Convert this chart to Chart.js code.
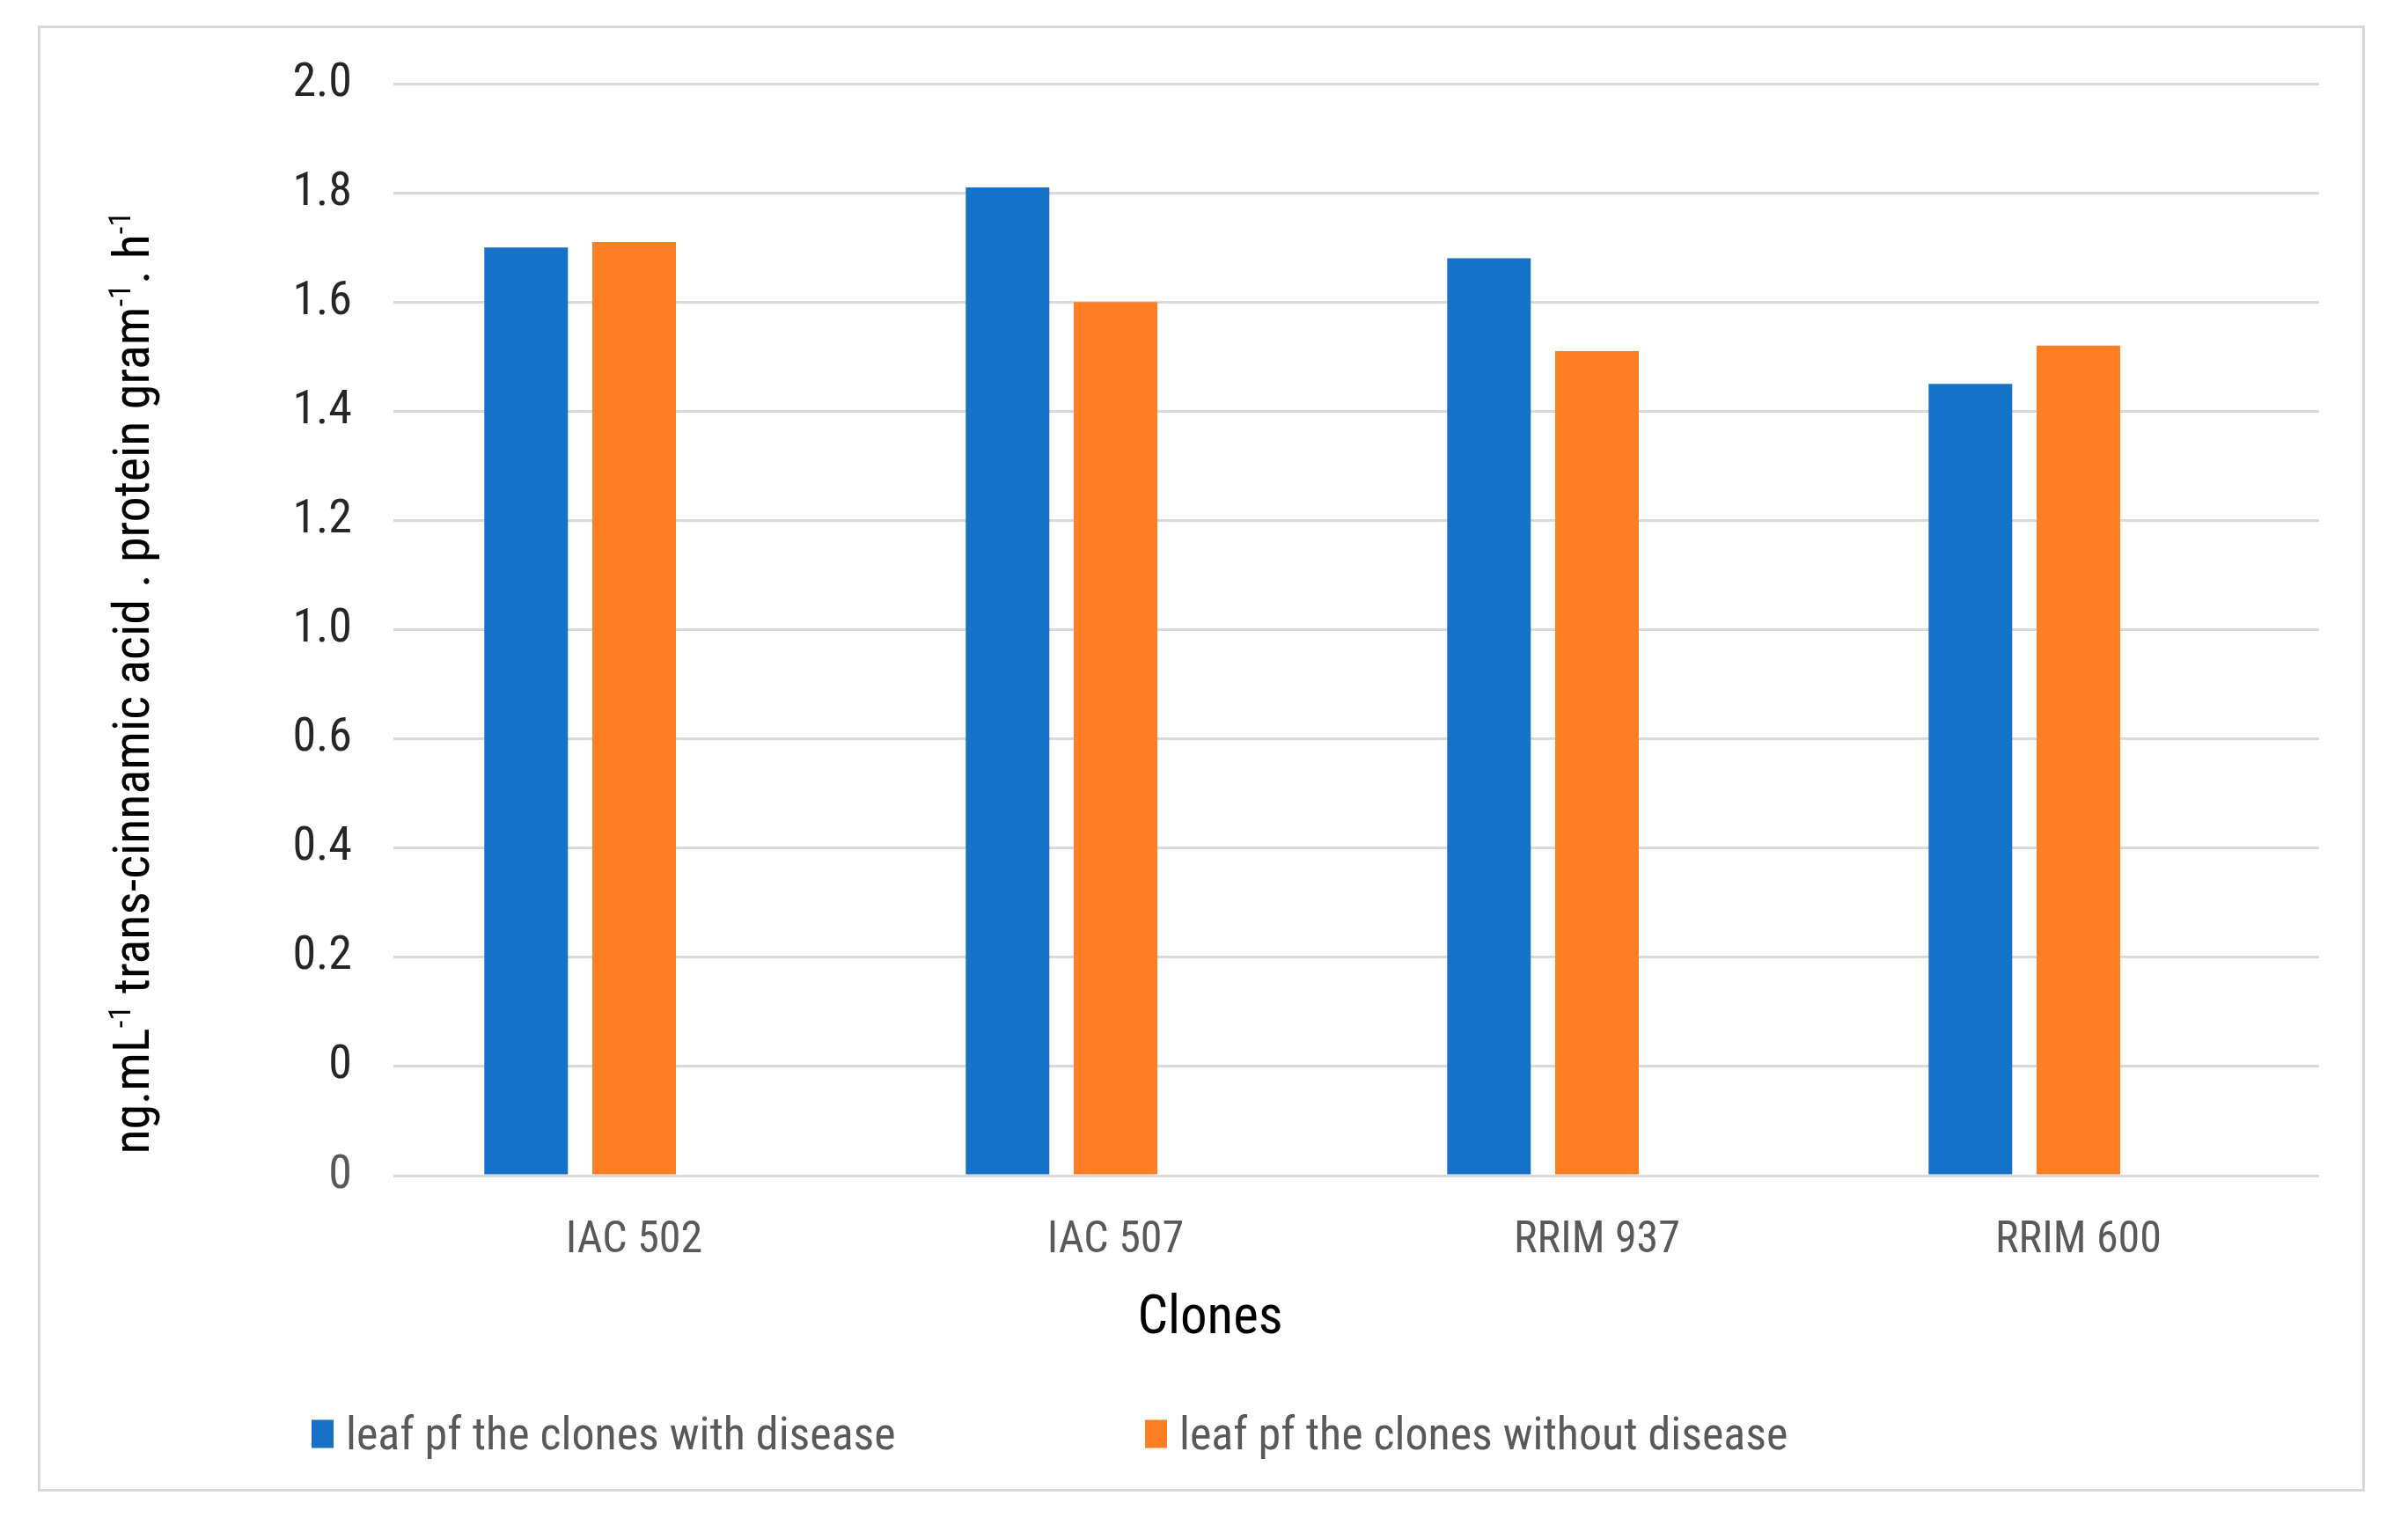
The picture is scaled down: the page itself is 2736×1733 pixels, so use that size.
<!DOCTYPE html>
<html>
<head>
<meta charset="utf-8">
<script src="https://cdn.jsdelivr.net/npm/chart.js@4.4.1/dist/chart.umd.min.js"></script>
<style>
  body { margin: 0; background: #fff; }
  #wrap { position: relative; width: 2736px; height: 1733px; font-family: 'Liberation Sans Narrow', 'Arial Narrow', 'Roboto Condensed', sans-serif; }
  #frame { position: absolute; left: 43px; top: 29px; width: 2644px; height: 1666px; border: 3px solid #d9d9d9; box-sizing: border-box; }
  #chart { position: absolute; left: 0; top: 0; }
  #ytitle { position: absolute; left: 149px; top: 776px; width: 1400px; text-align: center; white-space: nowrap;
            transform: translate(-50%, -50%) rotate(-90deg); font-size: 58px; color: #000; line-height: 1; }
  #ytitle sup { font-size: 0.6em; vertical-align: 0.6em; line-height: 0; }
  #xtitle { position: absolute; left: 1375px; top: 1494px; transform: translate(-50%, -50%); font-size: 61px; color: #000; white-space: nowrap; }
  .item { position: absolute; top: 1629px; transform: translateY(-50%); display: flex; align-items: center; white-space: nowrap;
          font-size: 52px; color: #595959; }
  .item i { display: inline-block; width: 25px; height: 32px; margin-right: 14px; }
</style>
</head>
<body>
<div id="wrap">
  <div id="frame"></div>
  <canvas id="chart" width="2736" height="1733"></canvas>
  <div id="ytitle">ng.mL<sup>-1</sup> trans-cinnamic acid . protein gram<sup>-1</sup>. h<sup>-1</sup></div>
  <div id="xtitle">Clones</div>
  <div id="legend"></div>
</div>
<script>
const clones = ['IAC 502', 'IAC 507', 'RRIM 937', 'RRIM 600'];
const withDisease = [1.70, 1.81, 1.68, 1.45];
const withoutDisease = [1.71, 1.60, 1.51, 1.52];
// the original chart had an empty third series, which pushes the bars left
const emptySeries = [null, null, null, null];
// y tick labels as printed, bottom to top
const yTickLabels = ['0', '0', '0.2', '0.4', '0.6', '1.0', '1.2', '1.4', '1.6', '1.8', '2.0'];

const seriesNames = ['leaf pf the clones with disease', 'leaf pf the clones without disease'];
const blue = '#1672c9';
const orange = '#fe7e26';
const fontFamily = "'Liberation Sans Narrow', 'Arial Narrow', 'Roboto Condensed', sans-serif";

const ctx = document.getElementById('chart').getContext('2d');

const data = {
    labels: clones,
    datasets: [{
        label: seriesNames[0],
        data: withDisease,
        backgroundColor: blue
    }, {
        label: seriesNames[1],
        data: withoutDisease,
        backgroundColor: orange
    }, {
        label: '',
        data: emptySeries,
        backgroundColor: 'rgba(0,0,0,0)'
    }]
};

const config = {
    type: 'bar',
    data: data,
    options: {
        responsive: false,
        devicePixelRatio: 1,
        animation: false,
        categoryPercentage: 0.673,
        barPercentage: 0.774,
        layout: {
            padding: { left: 0, top: 95, right: 101, bottom: 0 }
        },
        scales: {
            y: {
                min: 0,
                max: 2.0,
                afterFit: function (scale) { scale.width = 447; },
                ticks: {
                    stepSize: 0.2,
                    padding: 47,
                    font: { family: fontFamily, size: 54 },
                    color: function (c) { return c.index === 0 ? '#595959' : '#262626'; },
                    callback: function (value, index) {
                        return yTickLabels[index];
                    }
                },
                grid: { color: '#d9d9d9', lineWidth: 3, drawTicks: false },
                border: { display: false }
            },
            x: {
                afterFit: function (scale) { scale.height = 397; },
                ticks: {
                    padding: 36,
                    font: { family: fontFamily, size: 50 },
                    color: '#595959'
                },
                grid: { display: false },
                border: { display: false }
            }
        },
        plugins: {
            legend: { display: false },
            tooltip: { enabled: false }
        }
    }
};

const clonesChart = new Chart(ctx, config);

// legend drawn from the chart's own datasets
const legendLeft = [354, 1301];
const legend = document.getElementById('legend');
clonesChart.data.datasets.slice(0, 2).forEach((ds, i) => {
    const item = document.createElement('div');
    item.className = 'item';
    item.style.left = legendLeft[i] + 'px';
    item.innerHTML = '<i style="background:' + ds.backgroundColor + '"></i><span>' + ds.label + '</span>';
    legend.appendChild(item);
});
</script>
</body>
</html>
